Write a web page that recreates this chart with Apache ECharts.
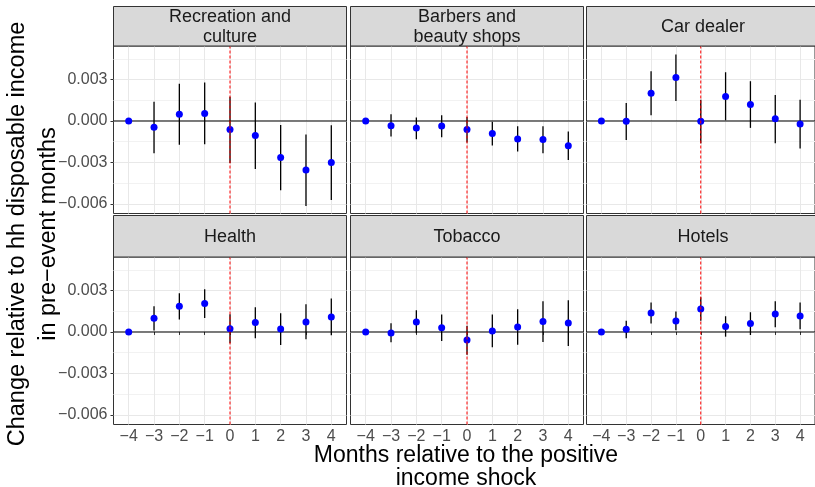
<!DOCTYPE html>
<html>
<head>
<meta charset="utf-8">
<script src="https://cdn.jsdelivr.net/npm/echarts@6/dist/echarts.min.js"></script>
<style>
  html, body { margin: 0; padding: 0; background: #fff; }
  #chart { width: 815px; height: 487px; }
</style>
</head>
<body>
<div id="chart"></div>
<script>
// Event-study estimates by spending category, months -4..4 around the shock
const months = [-4, -3, -2, -1, 0, 1, 2, 3, 4];
const panelTitles = ['Recreation and\nculture', 'Barbers and\nbeauty shops', 'Car dealer', 'Health', 'Tobacco', 'Hotels'];
const yTicks = [-0.006, -0.003, 0, 0.003];
const yMinorTicks = [-0.0045, -0.0015, 0.0015, 0.0045];
const eventMonth = 0;

const recreationEst = [0, -0.00046, 0.00048, 0.00055, -0.00062, -0.00106, -0.00264, -0.00355, -0.00300];
const recreationLo  = [0, -0.00233, -0.00173, -0.00168, -0.00305, -0.00348, -0.00501, -0.00616, -0.00573];
const recreationHi  = [0, 0.00139, 0.00269, 0.00278, 0.00175, 0.00134, -0.00029, -0.00098, -0.00031];

const barbersEst = [0, -0.00034, -0.00050, -0.00036, -0.00062, -0.00091, -0.00130, -0.00134, -0.00180];
const barbersLo  = [0, -0.00113, -0.00132, -0.00118, -0.00156, -0.00177, -0.00221, -0.00233, -0.00283];
const barbersHi  = [0, 0.00048, 0.00026, 0.00041, 0.00029, -0.00005, -0.00038, -0.00038, -0.00077];

const carEst = [0, -0.00002, 0.00201, 0.00314, -0.00002, 0.00177, 0.00120, 0.00017, -0.00022];
const carLo  = [0, -0.00137, 0.00041, 0.00144, -0.00161, 0.00005, -0.00050, -0.00161, -0.00199];
const carHi  = [0, 0.00130, 0.00360, 0.00482, 0.00153, 0.00353, 0.00288, 0.00189, 0.00153];

const healthEst = [0, 0.00099, 0.00186, 0.00206, 0.00024, 0.00068, 0.00022, 0.00073, 0.00109];
const healthLo  = [0, 0.00010, 0.00090, 0.00102, -0.00082, -0.00046, -0.00094, -0.00053, -0.00024];
const healthHi  = [0, 0.00186, 0.00281, 0.00310, 0.00128, 0.00179, 0.00136, 0.00201, 0.00242];

const tobaccoEst = [0, -0.00007, 0.00073, 0.00031, -0.00058, 0.00007, 0.00036, 0.00075, 0.00065];
const tobaccoLo  = [0, -0.00075, -0.00010, -0.00065, -0.00165, -0.00111, -0.00092, -0.00073, -0.00102];
const tobaccoHi  = [0, 0.00063, 0.00157, 0.00126, 0.00046, 0.00126, 0.00165, 0.00223, 0.00230];

const hotelsEst = [0, 0.00019, 0.00138, 0.00080, 0.00167, 0.00039, 0.00061, 0.00131, 0.00116];
const hotelsLo  = [0, -0.00046, 0.00061, 0.00012, 0.00082, -0.00034, -0.00022, 0.00034, 0.00019];
const hotelsHi  = [0, 0.00082, 0.00213, 0.00148, 0.00252, 0.00114, 0.00143, 0.00223, 0.00213];

const panelData = [
  [recreationEst, recreationLo, recreationHi],
  [barbersEst, barbersLo, barbersHi],
  [carEst, carLo, carHi],
  [healthEst, healthLo, healthHi],
  [tobaccoEst, tobaccoLo, tobaccoHi],
  [hotelsEst, hotelsLo, hotelsHi]
];

const FONT = '"Liberation Sans", Arial, sans-serif';
const colLeft = [113.5, 350.5, 586.5];
const panelW = 233;
const rowTop = [46, 257];
const panelH = 167.5;
const stripTop = [6.5, 215.5];

const X_MIN = -4.6, X_MAX = 4.6;
const Y_MIN = -0.0067, Y_MAX = 0.00543;

const minus = s => String(s).replace('-', '\u2212');

const grids = [], xAxes = [], yAxes = [], series = [], graphics = [];

function errorBar(params, api) {
  const x = api.value(0);
  const p1 = api.coord([x, api.value(1)]);
  const p2 = api.coord([x, api.value(2)]);
  return {
    type: 'line',
    shape: { x1: p1[0], y1: p1[1], x2: p2[0], y2: p2[1] },
    style: { stroke: '#000', lineWidth: 1.3 }
  };
}

panelData.forEach((d, i) => {
  const row = Math.floor(i / 3), col = i % 3;
  const isBottom = row === 1, isLeft = col === 0;
  grids.push({
    left: colLeft[col], top: rowTop[row], width: panelW, height: panelH,
    show: true, borderColor: '#333333', borderWidth: 1, backgroundColor: '#fff',
    containLabel: false
  });
  xAxes.push({
    gridIndex: i, type: 'value', min: X_MIN, max: X_MAX, position: 'bottom',
    axisLine: { show: false },
    axisTick: { show: isBottom, customValues: months, length: 3, lineStyle: { color: '#333' } },
    axisLabel: { show: isBottom, customValues: months, formatter: minus,
      color: '#4d4d4d', fontSize: 16, fontFamily: FONT, margin: 4 },
    splitLine: { show: true, lineStyle: { color: '#e8e8e8', width: 1 } }
  });
  // minor grid lines
  yAxes.push({
    gridIndex: i, type: 'value', min: Y_MIN, max: Y_MAX, position: 'left', offset: 0,
    axisLine: { show: false },
    axisTick: { show: false, customValues: yMinorTicks },
    axisLabel: { show: false, customValues: yMinorTicks },
    splitLine: { show: true, lineStyle: { color: '#f2f2f2', width: 1 } }
  });
  // major grid lines with labels
  yAxes.push({
    gridIndex: i, type: 'value', min: Y_MIN, max: Y_MAX, position: 'left', offset: 0,
    axisLine: { show: false },
    axisTick: { show: isLeft, customValues: yTicks, length: 3, lineStyle: { color: '#333' } },
    axisLabel: { show: isLeft, customValues: yTicks, formatter: v => minus(v.toFixed(3)),
      color: '#4d4d4d', fontSize: 16, fontFamily: FONT, margin: 6 },
    splitLine: { show: true, lineStyle: { color: '#e8e8e8', width: 1 } }
  });

  const [est, lo, hi] = d;
  const yi = 2 * i + 1;
  // zero reference line
  series.push({
    type: 'line', xAxisIndex: i, yAxisIndex: yi, z: 2, silent: true,
    symbol: 'none', lineStyle: { color: '#000', width: 1 },
    data: [[X_MIN, 0], [X_MAX, 0]]
  });
  // confidence intervals
  series.push({
    type: 'custom', xAxisIndex: i, yAxisIndex: yi, z: 3,
    renderItem: errorBar, silent: true,
    encode: { x: 0, y: [1, 2] },
    data: months.map((m, k) => [m, lo[k], hi[k]])
  });
  // point estimates
  series.push({
    type: 'scatter', xAxisIndex: i, yAxisIndex: yi, z: 4,
    symbol: 'circle', symbolSize: 7,
    itemStyle: { color: '#0000ff', opacity: 1 },
    silent: true,
    data: months.map((m, k) => [m, est[k]])
  });
  // event month marker
  series.push({
    type: 'line', xAxisIndex: i, yAxisIndex: yi, z: 5, silent: true,
    symbol: 'none', lineStyle: { color: '#ff0000', width: 1, type: [3, 2] },
    data: [[eventMonth, Y_MIN], [eventMonth, Y_MAX]]
  });

  // facet strip
  const sh = rowTop[row] - stripTop[row];
  graphics.push({
    type: 'rect', silent: true, z: 10,
    shape: { x: colLeft[col], y: stripTop[row], width: panelW, height: sh },
    style: { fill: '#d9d9d9', stroke: '#333333', lineWidth: 1 }
  });
  graphics.push({
    type: 'text', silent: true, z: 11,
    x: colLeft[col] + panelW / 2, y: stripTop[row] + sh / 2 + 0.5,
    style: { text: panelTitles[i], fill: '#1a1a1a', font: '18px ' + FONT,
      textAlign: 'center', textVerticalAlign: 'middle', lineHeight: 20 }
  });
});

// axis titles
graphics.push({
  type: 'text', silent: true,
  x: 466, y: 467,
  style: { text: 'Months relative to the positive\nincome shock', fill: '#000',
    font: '23px ' + FONT, textAlign: 'center', textVerticalAlign: 'middle', lineHeight: 23 }
});
graphics.push({
  type: 'text', silent: true,
  x: 33, y: 234, rotation: Math.PI / 2,
  style: { text: 'Change relative to hh disposable income\nin pre\u2212event months', fill: '#000',
    font: '23.5px ' + FONT, textAlign: 'center', textVerticalAlign: 'middle', lineHeight: 31 }
});

const chart = echarts.init(document.getElementById('chart'), null, { renderer: 'canvas' });
chart.setOption({
  animation: false,
  backgroundColor: '#fff',
  grid: grids, xAxis: xAxes, yAxis: yAxes, series: series,
  graphic: graphics
});
</script>
</body>
</html>
